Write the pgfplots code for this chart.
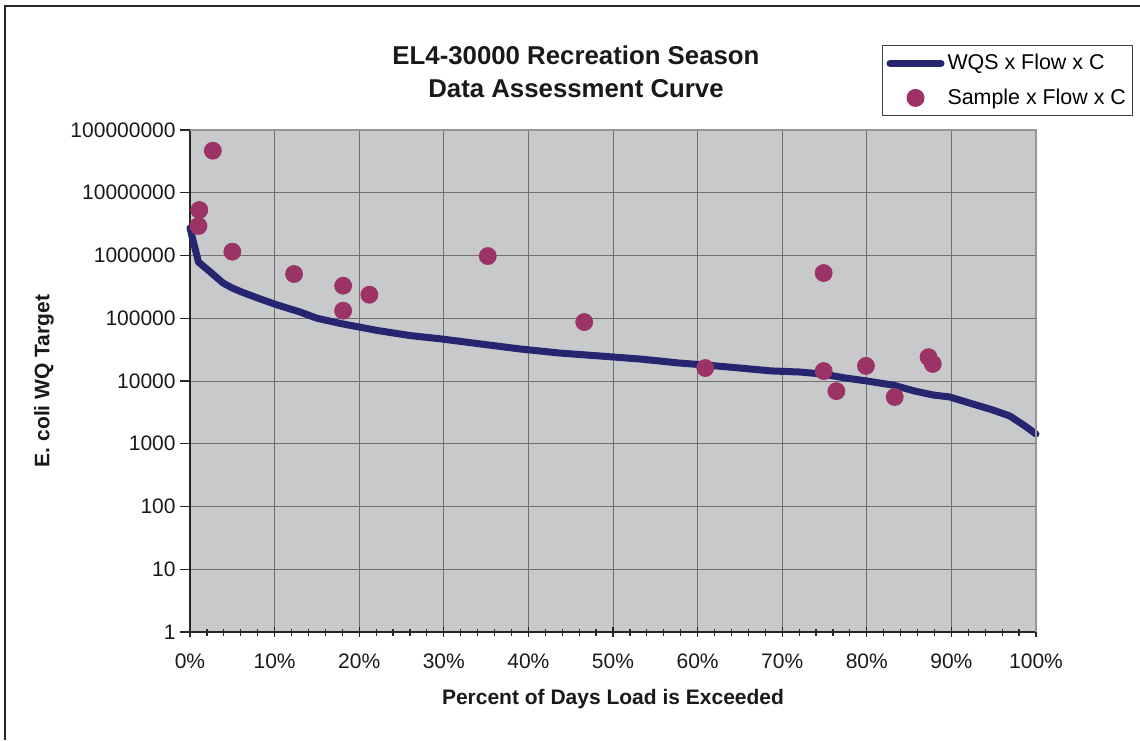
\documentclass[border=0pt]{standalone}
\usepackage{pgfplots}
\pgfplotsset{compat=1.18}
\usepackage{pgfplotstable}
\usepackage{fontspec}
\setmainfont{Liberation Sans}

\definecolor{wqsline}{RGB}{37,37,112}
\definecolor{sampledot}{RGB}{155,51,102}
\definecolor{plotbg}{RGB}{200,201,203}
\definecolor{gridgray}{RGB}{112,112,112}
\definecolor{bordergray}{RGB}{150,150,150}

\pgfplotsset{
  linelegend/.style={legend image code/.code={\draw[##1] (0pt,0pt) -- (25.5pt,0pt);}},
  marklegend/.style={legend image code/.code={\draw[mark repeat=2, mark phase=2, ##1]
    plot coordinates {(0pt,0pt) (12.75pt,0pt) (25.5pt,0pt)};}},
}

% load duration curve: allowable load (WQS x Flow x C)
\pgfplotstableread{
pct   load
0     2.74e6
1.0   7.87e5
2.4   5.46e5
3.9   3.65e5
5.0   3.03e5
6.1   2.62e5
8.3   2.03e5
10.3  1.63e5
13.0  1.26e5
15.0  1.00e5
17.7  8.3e4
22.1  6.4e4
26.0  5.3e4
29.6  4.7e4
34.3  3.9e4
39.0  3.24e4
43.7  2.79e4
48.5  2.50e4
53.2  2.24e4
57.9  1.93e4
60.9  1.80e4
65.0  1.61e4
68.6  1.45e4
72.1  1.39e4
74.8  1.29e4
77.4  1.12e4
80.0  1.00e4
83.1  8.6e3
85.7  6.9e3
87.8  6.0e3
89.8  5.56e3
91.8  4.6e3
94.9  3.45e3
96.9  2.77e3
98.7  1.92e3
100   1.43e3
}\wqscurve

% observed samples (Sample x Flow x C)
\pgfplotstableread{
pct   load
2.7   4.68e7
1.1   5.31e6
1.0   2.95e6
5.0   1.15e6
12.3  5.07e5
18.1  3.30e5
18.1  1.32e5
21.2  2.37e5
35.2  9.8e5
46.6  8.7e4
60.9  1.61e4
74.9  5.26e5
74.9  1.44e4
76.4  6.9e3
79.9  1.74e4
83.3  5.56e3
87.3  2.4e4
87.8  1.87e4
}\samples

\begin{document}
\begin{tikzpicture}
\begin{axis}[
  at={(95pt,54pt)}, anchor=south west,
  scale only axis, width=423pt, height=251pt,
  xmin=0, xmax=100,
  ymode=log, ymin=1, ymax=1e8,
  axis background/.style={fill=plotbg},
  axis x line*=bottom, axis y line*=left,
  axis line style={-, line width=0.8pt, black!85},
  xtick={0,10,...,100},
  xticklabels={0\%,10\%,20\%,30\%,40\%,50\%,60\%,70\%,80\%,90\%,100\%},
  minor x tick num=4,
  ytick={1,10,100,1000,10000,100000,1000000,10000000,100000000},
  yticklabels={1,10,100,1000,10000,100000,1000000,10000000,100000000},
  yminorticks=false,
  x tick style={black!85, line width=0.6pt},
  y tick style={black!85, line width=0.6pt},
  xtick align=center, ytick align=outside,
  major tick length=5pt, minor tick length=3.5pt,
  grid=major,
  major grid style={gridgray, line width=0.5pt},
  tick label style={font=\fontsize{10.5}{12}\selectfont, text=black!90},
  xticklabel style={inner sep=0pt, anchor=north, yshift=-8pt},
  yticklabel style={inner sep=0pt, anchor=east, xshift=-2pt},
  xlabel={Percent of Days Load is Exceeded},
  ylabel={E. coli WQ Target},
  label style={font=\bfseries\fontsize{10.5}{12}\selectfont, text=black!90},
  xlabel style={at={(axis description cs:0.5,-0.1335)}, anchor=center},
  ylabel style={at={(axis description cs:-0.1726,0.5)}, anchor=center},
  legend style={at={(axis description cs:0.818,1.169)}, anchor=north west,
    draw=black!75, line width=0.5pt, fill=white,
    font=\fontsize{10.7}{12}\selectfont,
    inner xsep=2pt, inner ysep=2.25pt, row sep=4pt,
    nodes={inner xsep=1.5pt}},
  legend cell align=left,
  clip=false,
]
\addplot[wqsline, line width=3.5pt, line cap=round, line join=round, linelegend]
  table[x=pct, y=load] {\wqscurve};
\addlegendentry{WQS x Flow x C}
\addplot[only marks, mark=*, mark size=4.25pt,
  mark options={draw=sampledot, fill=sampledot}, marklegend]
  table[x=pct, y=load] {\samples};
\addlegendentry{Sample x Flow x C}
% plot-area border on the top and right sides
\draw[bordergray, line width=1pt] (rel axis cs:0,1) -- (rel axis cs:1,1) -- (rel axis cs:1,0);
\end{axis}
\node[font=\bfseries\fontsize{12.9}{16.5}\selectfont, align=center, text=black!90]
  at (288pt,334.25pt) {EL4-30000 Recreation Season\\Data Assessment Curve};
\draw[line width=1pt, black!85] (2.5pt,0pt) -- (2.5pt,367pt) -- (570pt,367pt);
\pgfresetboundingbox
\useasboundingbox (0pt,0pt) rectangle (570pt,370pt);
\end{tikzpicture}
\end{document}
